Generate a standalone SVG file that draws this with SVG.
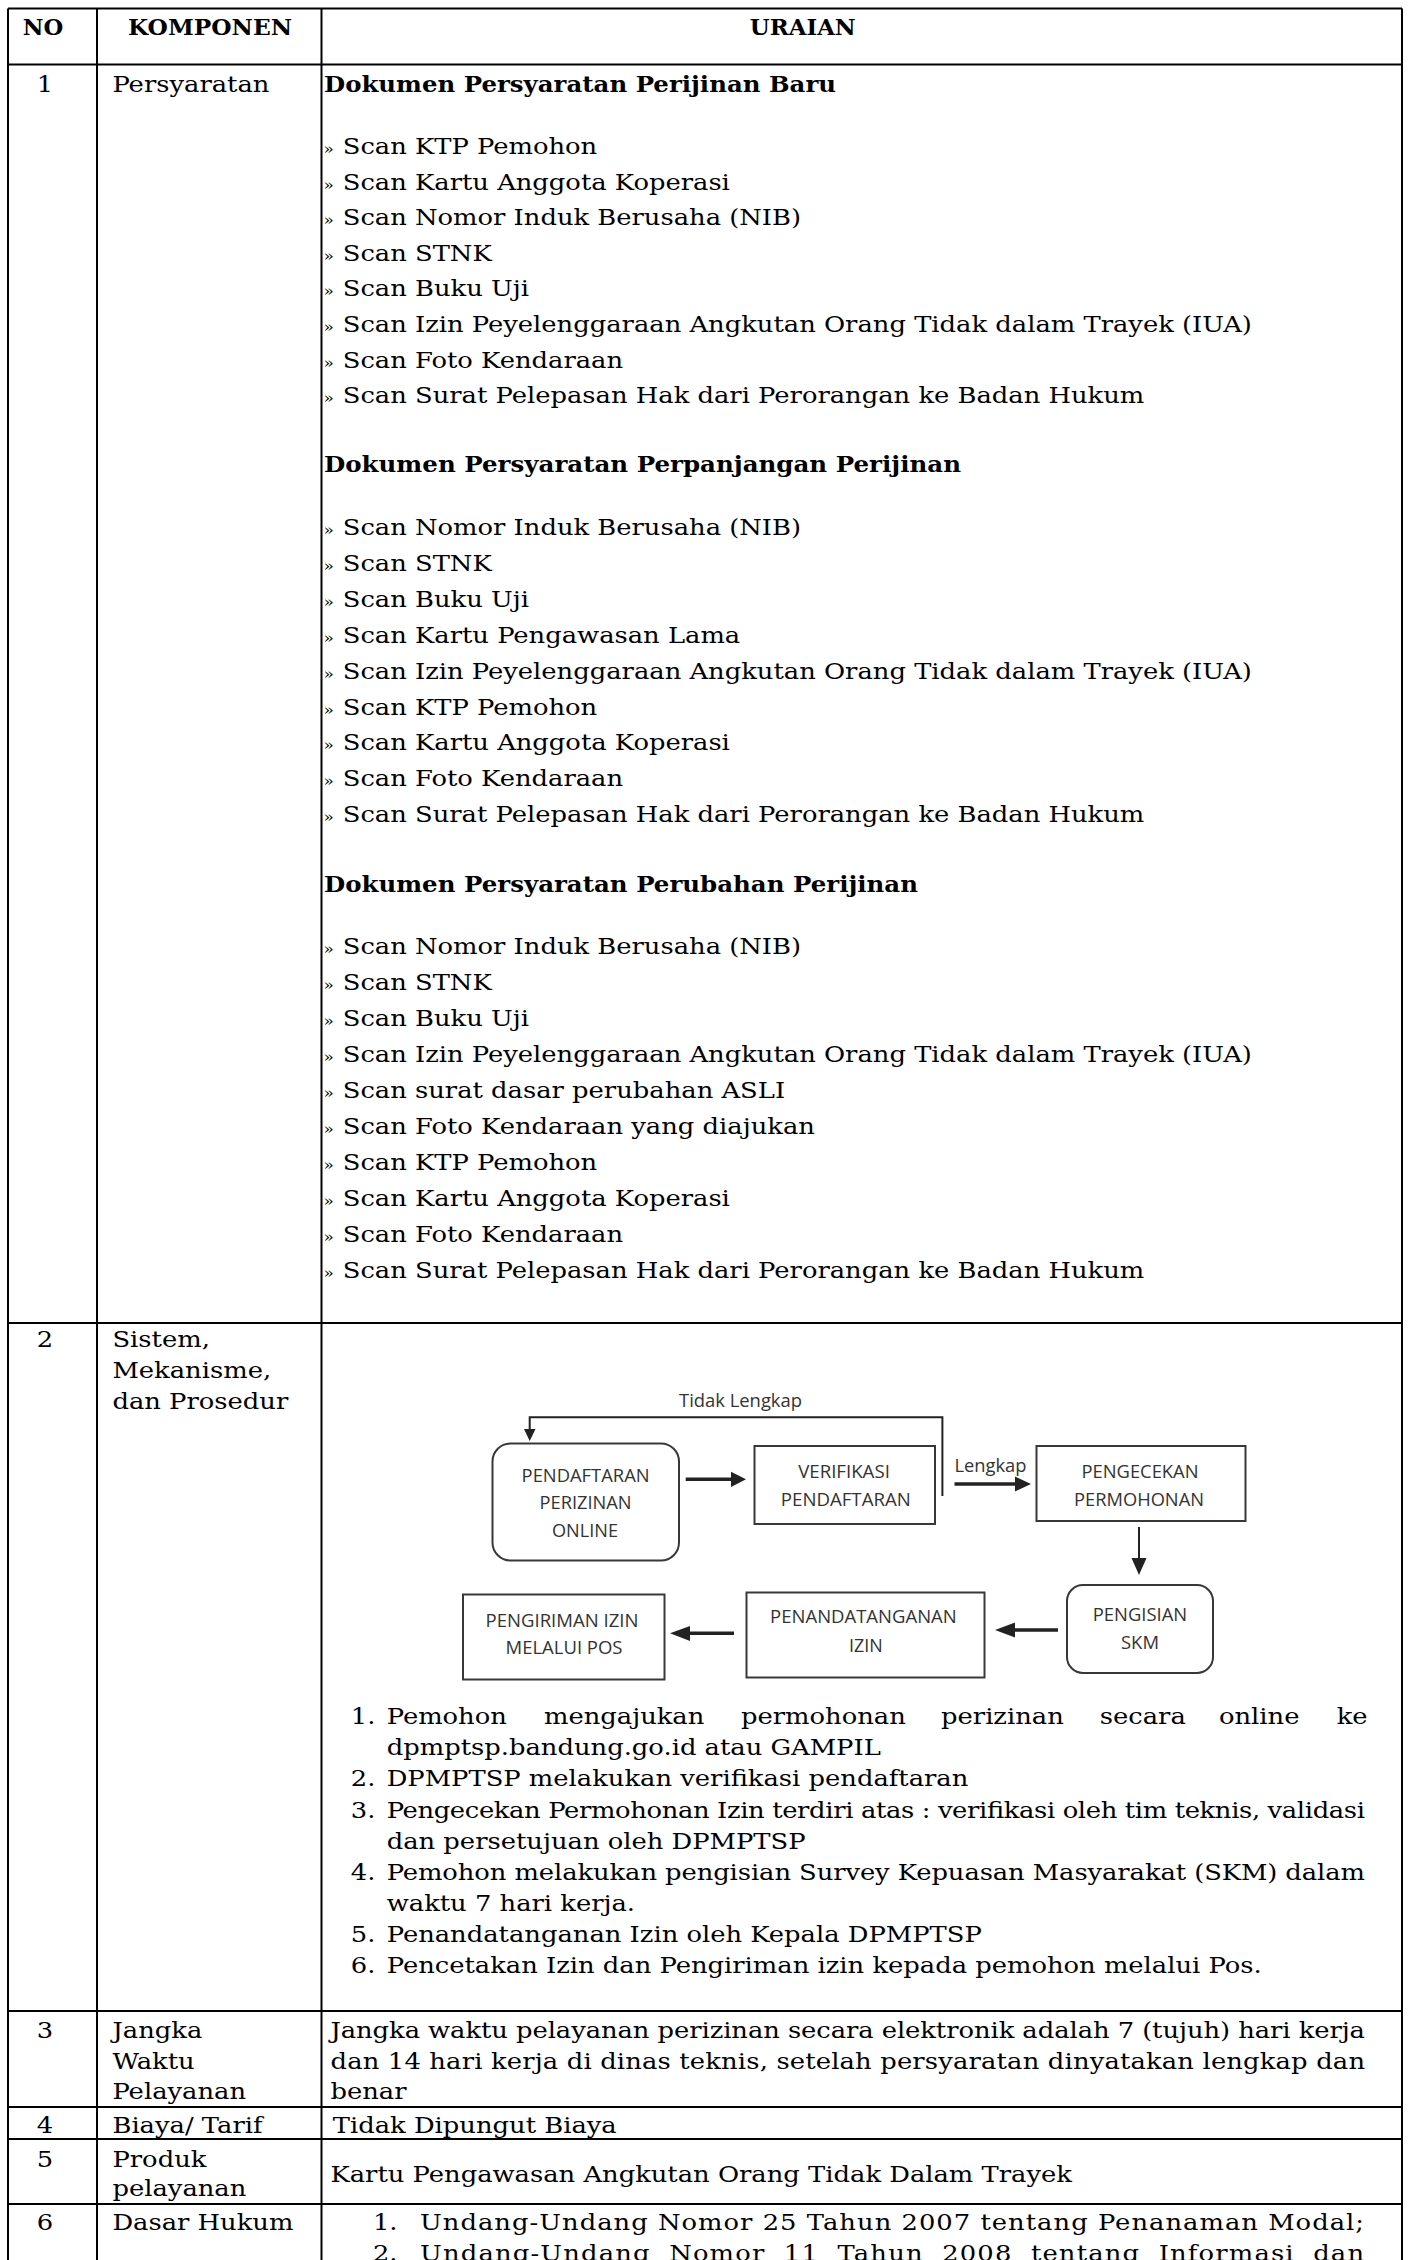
<svg xmlns="http://www.w3.org/2000/svg" width="1411" height="2260" viewBox="0 0 1411 2260">
<style>
.t{font-family:"DejaVu Serif","Liberation Serif",serif;font-size:21.5px;fill:#000}
.b{font-weight:bold;font-size:22.5px}
.m{text-anchor:middle}
.g{font-size:14px}
.ln{stroke:#000;stroke-width:2;fill:none}
.fc{font-family:"Open Sans","Liberation Sans",sans-serif;font-size:19px;fill:#333}
.box{fill:#fff;stroke:#383838;stroke-width:2}
.cl{stroke:#222;fill:none}
.ah{fill:#222;stroke:none}
</style>
<rect width="1411" height="2260" fill="#fff"/>
<g id="table-grid" class="ln">
<path d="M8 8.5H1402M8 64.5H1402M8 1323H1402M8 2011H1402M8 2107H1402M8 2139H1402M8 2204H1402"/>
<path d="M8 8.5V2260M97 8.5V2260M321.5 8.5V2260M1402 8.5V2260"/>
</g>
<g id="table-text" class="t" transform="scale(1.2,1)">
<text class="b m" x="35.8" y="35" textLength="33.75" lengthAdjust="spacingAndGlyphs">NO</text>
<text class="b m" x="175" y="35" textLength="136.7" lengthAdjust="spacingAndGlyphs">KOMPONEN</text>
<text class="b m" x="669" y="35" textLength="88.3" lengthAdjust="spacingAndGlyphs">URAIAN</text>
<text class="m" x="37.5" y="91.7">1</text>
<text x="93.7" y="91.7">Persyaratan</text>
<text class="b" x="270" y="91.7" textLength="426.7" lengthAdjust="spacingAndGlyphs">Dokumen Persyaratan Perijinan Baru</text>
<text y="154"><tspan class="g" x="269.6">»</tspan><tspan x="285.6">Scan KTP Pemohon</tspan></text>
<text y="189.6"><tspan class="g" x="269.6">»</tspan><tspan x="285.6">Scan Kartu Anggota Koperasi</tspan></text>
<text y="225.2"><tspan class="g" x="269.6">»</tspan><tspan x="285.6">Scan Nomor Induk Berusaha (NIB)</tspan></text>
<text y="260.8"><tspan class="g" x="269.6">»</tspan><tspan x="285.6">Scan STNK</tspan></text>
<text y="296.4"><tspan class="g" x="269.6">»</tspan><tspan x="285.6">Scan Buku Uji</tspan></text>
<text y="332"><tspan class="g" x="269.6">»</tspan><tspan x="285.6">Scan Izin Peyelenggaraan Angkutan Orang Tidak dalam Trayek (IUA)</tspan></text>
<text y="367.6"><tspan class="g" x="269.6">»</tspan><tspan x="285.6">Scan Foto Kendaraan</tspan></text>
<text y="403.2"><tspan class="g" x="269.6">»</tspan><tspan x="285.6">Scan Surat Pelepasan Hak dari Perorangan ke Badan Hukum</tspan></text>
<text class="b" x="270" y="472.5" textLength="530.8" lengthAdjust="spacingAndGlyphs">Dokumen Persyaratan Perpanjangan Perijinan</text>
<text y="535"><tspan class="g" x="269.6">»</tspan><tspan x="285.6">Scan Nomor Induk Berusaha (NIB)</tspan></text>
<text y="571"><tspan class="g" x="269.6">»</tspan><tspan x="285.6">Scan STNK</tspan></text>
<text y="607"><tspan class="g" x="269.6">»</tspan><tspan x="285.6">Scan Buku Uji</tspan></text>
<text y="643"><tspan class="g" x="269.6">»</tspan><tspan x="285.6">Scan Kartu Pengawasan Lama</tspan></text>
<text y="679"><tspan class="g" x="269.6">»</tspan><tspan x="285.6">Scan Izin Peyelenggaraan Angkutan Orang Tidak dalam Trayek (IUA)</tspan></text>
<text y="715"><tspan class="g" x="269.6">»</tspan><tspan x="285.6">Scan KTP Pemohon</tspan></text>
<text y="750.5"><tspan class="g" x="269.6">»</tspan><tspan x="285.6">Scan Kartu Anggota Koperasi</tspan></text>
<text y="786.5"><tspan class="g" x="269.6">»</tspan><tspan x="285.6">Scan Foto Kendaraan</tspan></text>
<text y="822"><tspan class="g" x="269.6">»</tspan><tspan x="285.6">Scan Surat Pelepasan Hak dari Perorangan ke Badan Hukum</tspan></text>
<text class="b" x="270" y="892.5" textLength="495" lengthAdjust="spacingAndGlyphs">Dokumen Persyaratan Perubahan Perijinan</text>
<text y="954.5"><tspan class="g" x="269.6">»</tspan><tspan x="285.6">Scan Nomor Induk Berusaha (NIB)</tspan></text>
<text y="990.4"><tspan class="g" x="269.6">»</tspan><tspan x="285.6">Scan STNK</tspan></text>
<text y="1026.3"><tspan class="g" x="269.6">»</tspan><tspan x="285.6">Scan Buku Uji</tspan></text>
<text y="1062.2"><tspan class="g" x="269.6">»</tspan><tspan x="285.6">Scan Izin Peyelenggaraan Angkutan Orang Tidak dalam Trayek (IUA)</tspan></text>
<text y="1098.1"><tspan class="g" x="269.6">»</tspan><tspan x="285.6">Scan surat dasar perubahan ASLI</tspan></text>
<text y="1134"><tspan class="g" x="269.6">»</tspan><tspan x="285.6">Scan Foto Kendaraan yang diajukan</tspan></text>
<text y="1169.9"><tspan class="g" x="269.6">»</tspan><tspan x="285.6">Scan KTP Pemohon</tspan></text>
<text y="1205.8"><tspan class="g" x="269.6">»</tspan><tspan x="285.6">Scan Kartu Anggota Koperasi</tspan></text>
<text y="1241.7"><tspan class="g" x="269.6">»</tspan><tspan x="285.6">Scan Foto Kendaraan</tspan></text>
<text y="1277.6"><tspan class="g" x="269.6">»</tspan><tspan x="285.6">Scan Surat Pelepasan Hak dari Perorangan ke Badan Hukum</tspan></text>

<text class="m" x="37.5" y="1347">2</text>
<text x="93.7" y="1347">Sistem,</text>
<text x="93.7" y="1378">Mekanisme,</text>
<text x="93.7" y="1409">dan Prosedur</text>
<text y="1724"><tspan x="292.3">1.</tspan><tspan x="322.25">Pemohon</tspan><tspan x="453.3">mengajukan</tspan><tspan x="617.5">permohonan</tspan><tspan x="784.2">perizinan</tspan><tspan x="916.5">secara</tspan><tspan x="1015.8">online</tspan><tspan x="1113.9">ke</tspan></text>
<text x="322.25" y="1755">dpmptsp.bandung.go.id atau GAMPIL</text>
<text y="1786"><tspan x="292.3">2.</tspan><tspan x="322.25">DPMPTSP melakukan verifikasi pendaftaran</tspan></text>
<text y="1818"><tspan x="292.3">3.</tspan></text>
<text x="322.25" y="1818" textLength="815.25" lengthAdjust="spacing">Pengecekan Permohonan Izin terdiri atas : verifikasi oleh tim teknis, validasi</text>
<text x="322.25" y="1849">dan persetujuan oleh DPMPTSP</text>
<text y="1880"><tspan x="292.3">4.</tspan></text>
<text x="322.25" y="1880" textLength="815.25" lengthAdjust="spacing">Pemohon melakukan pengisian Survey Kepuasan Masyarakat (SKM) dalam</text>
<text x="322.25" y="1911">waktu 7 hari kerja.</text>
<text y="1942"><tspan x="292.3">5.</tspan><tspan x="322.25">Penandatanganan Izin oleh Kepala DPMPTSP</tspan></text>
<text y="1973"><tspan x="292.3">6.</tspan><tspan x="322.25">Pencetakan Izin dan Pengiriman izin kepada pemohon melalui Pos.</tspan></text>

<text class="m" x="37.5" y="2038.3">3</text>
<text x="93.7" y="2038.3">Jangka</text>
<text x="93.7" y="2069.3">Waktu</text>
<text x="93.7" y="2099.3">Pelayanan</text>
<text x="275.4" y="2038.3" textLength="862.1" lengthAdjust="spacing">Jangka waktu pelayanan perizinan secara elektronik adalah 7 (tujuh) hari kerja</text>
<text x="275.4" y="2069.3" textLength="862.1" lengthAdjust="spacing">dan 14 hari kerja di dinas teknis, setelah persyaratan dinyatakan lengkap dan</text>
<text x="275.4" y="2099.3">benar</text>

<text class="m" x="37.5" y="2132.7">4</text>
<text x="93.7" y="2132.7">Biaya/ Tarif</text>
<text x="277.3" y="2132.7">Tidak Dipungut Biaya</text>

<text class="m" x="37.5" y="2166.7">5</text>
<text x="93.7" y="2166.7">Produk</text>
<text x="93.7" y="2196">pelayanan</text>
<text x="275.4" y="2181.7">Kartu Pengawasan Angkutan Orang Tidak Dalam Trayek</text>

<text class="m" x="37.5" y="2230">6</text>
<text x="93.7" y="2230">Dasar Hukum</text>
<text x="310.8" y="2230">1.</text>
<text x="350" y="2230" textLength="786.7" lengthAdjust="spacing">Undang-Undang Nomor 25 Tahun 2007 tentang Penanaman Modal;</text>
<text x="310.8" y="2261">2.</text>
<text x="350" y="2261" word-spacing="7.5" textLength="786.7" lengthAdjust="spacing">Undang-Undang Nomor 11 Tahun 2008 tentang Informasi dan</text>
</g>

<g id="connectors">
<path class="cl" stroke-width="3.5" d="M685.7 1479.3H733"/>
<polygon class="ah" points="731,1471.7 746,1479.3 731,1487"/>
<path class="cl" stroke-width="3.5" d="M954.5 1484H1016"/>
<polygon class="ah" points="1015,1476.5 1031,1484 1015,1491.5"/>
<path class="cl" stroke-width="2" d="M1139 1527V1560"/>
<polygon class="ah" points="1131.5,1558 1139,1575 1146.5,1558"/>
<path class="cl" stroke-width="3.5" d="M1058 1630H1013"/>
<polygon class="ah" points="1015,1622.5 995,1630 1015,1637.5"/>
<path class="cl" stroke-width="3.5" d="M734 1633.3H688"/>
<polygon class="ah" points="690,1626 670,1633.3 690,1641"/>
<path class="cl" stroke-width="2" d="M942.4 1496V1417.3H529.7V1431"/>
<polygon class="ah" points="524,1429 529.7,1441 535.5,1429"/>
<text class="fc" x="679" y="1407" textLength="123" lengthAdjust="spacingAndGlyphs">Tidak Lengkap</text>
<text class="fc" x="954.5" y="1471.7" textLength="72" lengthAdjust="spacingAndGlyphs">Lengkap</text>
</g>

<g id="n1">
<rect class="box" x="492.5" y="1443.5" width="186.5" height="117" rx="18"/>
<text class="fc m" x="585.6" y="1481.7" textLength="128" lengthAdjust="spacingAndGlyphs">PENDAFTARAN</text>
<text class="fc m" x="585.6" y="1509.3" textLength="92" lengthAdjust="spacingAndGlyphs">PERIZINAN</text>
<text class="fc m" x="585" y="1537.3" textLength="66" lengthAdjust="spacingAndGlyphs">ONLINE</text>
</g>
<g id="n2">
<rect class="box" x="754.5" y="1446" width="180.5" height="78"/>
<text class="fc m" x="844" y="1478.3" textLength="91.7" lengthAdjust="spacingAndGlyphs">VERIFIKASI</text>
<text class="fc m" x="845.8" y="1505.7" textLength="130" lengthAdjust="spacingAndGlyphs">PENDAFTARAN</text>
</g>
<g id="n3">
<rect class="box" x="1036.5" y="1446" width="209" height="75"/>
<text class="fc m" x="1140" y="1478.3" textLength="117" lengthAdjust="spacingAndGlyphs">PENGECEKAN</text>
<text class="fc m" x="1139" y="1505.7" textLength="130" lengthAdjust="spacingAndGlyphs">PERMOHONAN</text>
</g>
<g id="n4">
<rect class="box" x="1067" y="1585" width="146" height="88" rx="16"/>
<text class="fc m" x="1140" y="1620.7" textLength="94.4" lengthAdjust="spacingAndGlyphs">PENGISIAN</text>
<text class="fc m" x="1140" y="1649" textLength="38" lengthAdjust="spacingAndGlyphs">SKM</text>
</g>
<g id="n5">
<rect class="box" x="746.5" y="1592.5" width="238" height="85"/>
<text class="fc m" x="863.4" y="1623.3" textLength="186.6" lengthAdjust="spacingAndGlyphs">PENANDATANGANAN</text>
<text class="fc m" x="865.8" y="1651.7" textLength="33.7" lengthAdjust="spacingAndGlyphs">IZIN</text>
</g>
<g id="n6">
<rect class="box" x="463" y="1594.5" width="201.5" height="85"/>
<text class="fc m" x="562" y="1626.7" textLength="153" lengthAdjust="spacingAndGlyphs">PENGIRIMAN IZIN</text>
<text class="fc m" x="564" y="1654" textLength="117" lengthAdjust="spacingAndGlyphs">MELALUI POS</text>
</g>
</svg>
